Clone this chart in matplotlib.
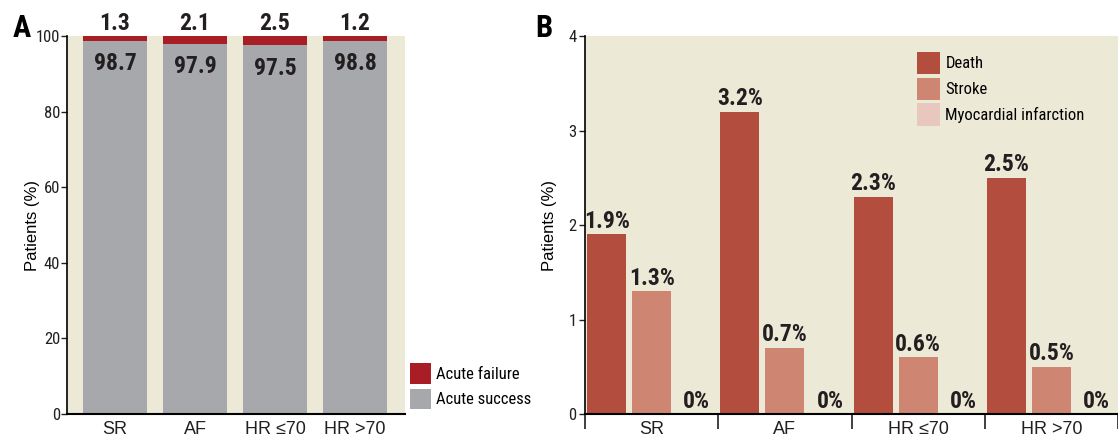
import matplotlib
matplotlib.use("Agg")
import matplotlib.pyplot as plt
from matplotlib import font_manager as fm
import numpy as np

# panel A data
groups = ["SR", "AF", "HR \u226470", "HR >70"]
acute_success = [98.7, 97.9, 97.5, 98.8]
acute_failure = [1.3, 2.1, 2.5, 1.2]

# panel B data
death = [1.9, 3.2, 2.3, 2.5]
stroke = [1.3, 0.7, 0.6, 0.5]
mi = [0.0, 0.0, 0.0, 0.0]

# pick a condensed face if one is installed
have = set(f.name for f in fm.fontManager.ttflist)
cands = ["Roboto Condensed", "Archivo Narrow", "PT Sans Narrow", "Liberation Sans Narrow",
         "Fira Sans Condensed", "Barlow Semi Condensed", "IBM Plex Sans Condensed",
         "Encode Sans Condensed", "Open Sans Condensed"]
narrow_name = next((c for c in cands if c in have), "DejaVu Sans")
narrow = [narrow_name, "DejaVu Sans"]
plain = ["Liberation Sans", "DejaVu Sans"]
cream = "#ECE9D7"
ink = "#231F20"

fig = plt.figure(figsize=(11.18, 4.37), dpi=100)

# ---------- panel A ----------
axA = fig.add_axes([0.0599, 0.0526, 0.302, 0.865])
axA.set_facecolor(cream)
x = np.arange(len(groups))
axA.bar(x, acute_success, width=0.79, color="#A7A8AC", label="Acute success")
axA.bar(x, acute_failure, bottom=acute_success, width=0.79, color="#A81E24",
        label="Acute failure")
for i in range(len(groups)):
    axA.annotate(f"{acute_failure[i]}", (x[i], 100), xytext=(0, 1),
                 textcoords="offset points", ha="center", va="bottom",
                 family=narrow, weight="bold", fontsize=17, color=ink)
    axA.annotate(f"{acute_success[i]}", (x[i], acute_success[i]), xytext=(0, -8),
                 textcoords="offset points", ha="center", va="top",
                 family=narrow, weight="bold", fontsize=17, color=ink)
axA.set_xlim(-0.6, 3.62)
axA.set_ylim(0, 100)
axA.set_yticks([0, 20, 40, 60, 80, 100])
axA.set_xticks(x)
axA.set_xticklabels(groups, family=plain, fontsize=13)
for t in axA.get_yticklabels():
    t.set_family(narrow)
    t.set_fontsize(12)
axA.tick_params(axis="y", length=4, width=1, pad=1, colors=ink)
axA.tick_params(axis="x", length=0, pad=5, colors=ink)
for s in ["top", "right"]:
    axA.spines[s].set_visible(False)
axA.spines["left"].set_linewidth(1.2)
axA.spines["bottom"].set_linewidth(1.5)
axA.set_ylabel("Patients (%)", family=plain, fontsize=12, labelpad=-3)
h, l = axA.get_legend_handles_labels()
axA.legend(h[::-1], l[::-1], loc="lower left", bbox_to_anchor=(1.0, 0.0),
           frameon=False, prop={"family": narrow, "size": 12},
           handlelength=1.27, handleheight=1.5, handletextpad=0.3,
           labelspacing=0.3, borderpad=0.1, borderaxespad=0.2)
fig.text(0.011, 0.935, "A", family=narrow, weight="bold", fontsize=22, va="center")

# ---------- panel B ----------
axB = fig.add_axes([0.5233, 0.0526, 0.4767, 0.865])
axB.set_facecolor(cream)
w = 0.293
off = 0.338
bd = axB.bar(x - off, death, width=w, color="#B34D3D", label="Death")
bs = axB.bar(x, stroke, width=w, color="#CE8571", label="Stroke")
bm = axB.bar(x + off, mi, width=w, color="#E8C7BC", label="Myocardial infarction")
for bars, vals in [(bd, death), (bs, stroke), (bm, mi)]:
    for b, v in zip(bars, vals):
        lab = "0%" if v == 0 else f"{v}%"
        axB.annotate(lab, (b.get_x() + b.get_width() / 2, v), xytext=(0, 1),
                     textcoords="offset points", ha="center", va="bottom",
                     family=narrow, weight="bold", fontsize=17, color=ink)
axB.set_xlim(-0.5, 3.5)
axB.set_ylim(0, 4)
axB.set_yticks([0, 1, 2, 3, 4])
axB.set_xticks(x)
axB.set_xticklabels(groups, family=plain, fontsize=13)
axB.set_xticks(np.arange(-0.5, 3.6, 1.0), minor=True)
for t in axB.get_yticklabels():
    t.set_family(narrow)
    t.set_fontsize(12)
axB.tick_params(axis="y", length=4, width=1, pad=2, colors=ink)
axB.tick_params(axis="x", which="major", length=0, pad=5, colors=ink)
axB.tick_params(axis="x", which="minor", length=11, width=1.2, colors=ink)
for s in ["top", "right"]:
    axB.spines[s].set_visible(False)
axB.spines["left"].set_linewidth(1.2)
axB.spines["bottom"].set_linewidth(1.5)
axB.set_ylabel("Patients (%)", family=plain, fontsize=12, labelpad=8)
axB.legend(loc="upper left", bbox_to_anchor=(0.604, 0.985), frameon=False,
           prop={"family": narrow, "size": 12},
           handlelength=1.4, handleheight=1.7, handletextpad=0.3,
           labelspacing=0.2, borderpad=0.1)
fig.text(0.479, 0.935, "B", family=narrow, weight="bold", fontsize=22, va="center")

fig.savefig("out.png", dpi=100)
